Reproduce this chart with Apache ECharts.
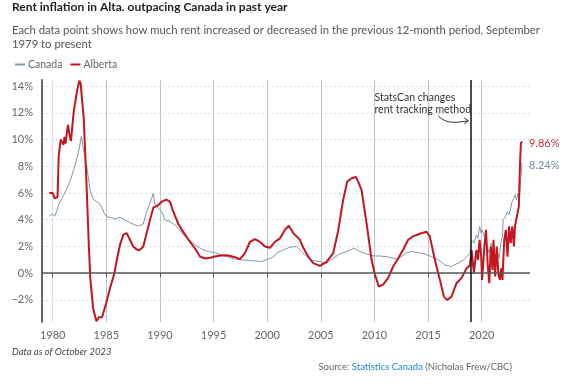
<!DOCTYPE html>
<html><head><meta charset="utf-8">
<script src="https://cdn.jsdelivr.net/npm/echarts@6/dist/echarts.min.js"></script>
<style>html,body{margin:0;padding:0;background:#fff}#c{width:576px;height:391px}</style>
</head><body><div id="c"></div>
<script>
const yearTicks = [1980, 1985, 1990, 1995, 2000, 2005, 2010, 2015, 2020];
const percentTicks = [-2, 0, 2, 4, 6, 8, 10, 12, 14];
const methodChangeYear = 2019.0;

const canadaData = [
  [1979.67, 4.26], [1979.93, 4.43], [1980.19, 4.26], [1980.4, 4.7], [1980.56, 5.13], [1980.8, 5.5],
  [1981.02, 5.87], [1981.25, 6.2], [1981.49, 6.62], [1981.7, 7.1], [1981.96, 7.74], [1982.26, 8.6],
  [1982.48, 9.36], [1982.67, 10.24], [1982.89, 9.12], [1983.2, 7.87], [1983.5, 6.12], [1983.82, 5.5],
  [1984.29, 5.25], [1984.6, 4.88], [1984.85, 4.38], [1985.22, 4.19], [1985.5, 4.15], [1985.8, 4.04],
  [1986.27, 4.19], [1986.74, 3.98], [1987.2, 3.78], [1987.67, 3.61], [1987.98, 3.53], [1988.44, 3.68],
  [1988.76, 4.6], [1989.07, 5.23], [1989.38, 5.98], [1989.53, 5.1], [1989.84, 4.86], [1990.16, 4.6],
  [1990.47, 3.98], [1990.93, 3.86], [1991.4, 3.61], [1991.86, 3.24], [1992.02, 3.0], [1992.64, 2.54],
  [1993.26, 2.12], [1993.88, 1.79], [1994.5, 1.62], [1995.1, 1.54], [1995.75, 1.37], [1996.37, 1.2],
  [1997.0, 1.05], [1997.6, 1.0], [1998.55, 0.94], [1999.48, 0.87], [2000.1, 1.05], [2000.56, 1.2],
  [2000.87, 1.5], [2001.49, 1.74], [2002.11, 1.94], [2002.74, 2.0], [2003.2, 1.62], [2003.67, 1.24],
  [2004.29, 0.94], [2004.91, 0.87], [2005.53, 0.75], [2006.15, 1.12], [2006.77, 1.44], [2007.4, 1.62],
  [2008.08, 1.87], [2008.64, 1.62], [2009.26, 1.44], [2009.88, 1.29], [2010.5, 1.29], [2011.43, 1.2],
  [2012.06, 1.05], [2012.52, 1.24], [2012.99, 1.54], [2013.46, 1.62], [2014.08, 1.54], [2014.7, 1.44],
  [2015.32, 1.24], [2015.94, 1.0], [2016.56, 0.62], [2017.18, 0.5], [2017.8, 0.75], [2018.42, 1.05],
  [2018.9, 1.5], [2019.05, 2.5], [2019.27, 2.24], [2019.5, 2.86], [2019.65, 2.6], [2019.8, 3.5],
  [2019.95, 3.0], [2020.05, 3.24], [2020.25, 2.74], [2020.43, 2.24], [2020.7, 1.5], [2020.88, 2.24],
  [2021.07, 1.74], [2021.25, 1.24], [2021.43, 1.62], [2021.62, 1.12], [2021.8, 2.36], [2021.93, 2.74],
  [2022.0, 4.0], [2022.2, 4.23], [2022.38, 4.6], [2022.55, 4.36], [2022.7, 4.86], [2022.83, 5.35],
  [2022.97, 5.6], [2023.1, 5.85], [2023.24, 5.48], [2023.38, 5.98], [2023.52, 5.73], [2023.75, 8.24]
];

const albertaData = [
  [1979.67, 6.0], [1979.83, 5.9], [1980.0, 6.0], [1980.17, 5.6], [1980.33, 5.7], [1980.45, 5.7],
  [1980.56, 8.8], [1980.75, 10.0], [1980.87, 10.1], [1981.0, 9.6], [1981.1, 10.2], [1981.2, 9.7],
  [1981.33, 10.6], [1981.43, 11.1], [1981.55, 10.4], [1981.7, 9.9], [1981.96, 12.1], [1982.26, 13.6],
  [1982.48, 14.4], [1982.6, 14.2], [1982.89, 11.6], [1983.13, 7.1], [1983.35, 2.4], [1983.5, -0.35],
  [1983.76, -2.6], [1984.07, -3.6], [1984.3, -3.3], [1984.6, -3.3], [1985.0, -2.2], [1985.35, -1.1],
  [1985.75, 0.0], [1986.0, 1.1], [1986.3, 2.2], [1986.6, 2.9], [1986.9, 3.0], [1987.05, 2.9],
  [1987.2, 2.5], [1987.5, 2.0], [1987.8, 1.8], [1988.0, 1.7], [1988.2, 1.8], [1988.44, 2.0],
  [1988.76, 3.0], [1989.07, 4.0], [1989.38, 4.9], [1989.84, 5.1], [1990.16, 5.35], [1990.6, 5.5],
  [1990.93, 5.35], [1991.24, 4.6], [1991.7, 3.7], [1992.0, 3.3], [1992.49, 2.7], [1993.26, 1.85],
  [1993.73, 1.25], [1994.2, 1.1], [1994.7, 1.15], [1995.1, 1.25], [1995.5, 1.3], [1996.06, 1.35],
  [1996.5, 1.3], [1997.0, 1.2], [1997.46, 1.05], [1997.92, 1.5], [1998.39, 2.35], [1998.85, 2.55],
  [1999.32, 2.35], [1999.79, 2.0], [2000.25, 1.9], [2000.72, 2.35], [2001.18, 2.6], [2001.65, 3.25],
  [2002.02, 3.55], [2002.43, 3.0], [2003.05, 2.5], [2003.36, 1.9], [2003.82, 1.25], [2004.29, 0.75],
  [2004.91, 0.55], [2005.53, 0.85], [2006.15, 1.5], [2006.62, 3.2], [2007.08, 5.5], [2007.46, 6.85],
  [2007.87, 7.1], [2008.27, 7.2], [2008.48, 6.85], [2008.8, 6.2], [2009.26, 3.75], [2009.73, 1.0],
  [2010.04, -0.1], [2010.4, -1.0], [2010.55, -1.1], [2010.81, -0.85], [2011.28, -0.35], [2011.74, 0.5],
  [2012.2, 1.1], [2012.67, 1.75], [2013.14, 2.5], [2013.6, 2.75], [2014.22, 2.95], [2014.85, 3.1],
  [2015.16, 2.75], [2015.63, 1.0], [2016.1, -0.5], [2016.47, -1.75], [2016.78, -2.0], [2017.18, -1.75],
  [2017.65, -0.75], [2018.12, -0.35], [2018.58, 0.35], [2018.9, 0.6], [2019.05, 1.74], [2019.27, 0.0],
  [2019.5, 1.74], [2019.65, 1.0], [2019.8, 2.5], [2019.95, 1.24], [2020.03, -0.5], [2020.25, 2.0],
  [2020.4, 3.24], [2020.55, 0.75], [2020.7, -0.75], [2020.85, 2.0], [2021.0, 0.25], [2021.1, 2.5],
  [2021.25, -0.25], [2021.4, 2.0], [2021.55, 0.0], [2021.68, -0.5], [2021.83, 0.37], [2021.93, -0.5],
  [2022.1, 2.5], [2022.25, 3.24], [2022.4, 1.24], [2022.55, 3.5], [2022.7, 2.24], [2022.85, 3.5],
  [2023.0, 2.0], [2023.1, 3.5], [2023.2, 3.6], [2023.34, 4.5], [2023.46, 5.0], [2023.56, 8.0],
  [2023.65, 9.7], [2023.75, 9.86]
];

const FONT = 'Lato';
const chart = echarts.init(document.getElementById('c'), null, { renderer: 'canvas' });

const option = {
  animation: false,
  backgroundColor: '#fff',
  textStyle: { fontFamily: FONT },
  title: [
    { text: 'Rent inflation in Alta. outpacing Canada in past year', left: 12, top: 1.5, padding: 0,
      textStyle: { fontFamily: FONT, fontSize: 12, fontWeight: 'bold', color: '#1e1e1e' } },
    { text: 'Each data point shows how much rent increased or decreased in the previous 12-month period, September\n1979 to present',
      left: 12, top: 24, padding: 0,
      textStyle: { fontFamily: FONT, fontSize: 11.3, fontWeight: 'normal', color: '#555', lineHeight: 13.5 } },
    { text: 'Data as of October 2023', left: 12, top: 347, padding: 0,
      textStyle: { fontFamily: FONT, fontSize: 9.5, fontStyle: 'italic', fontWeight: 'normal', color: '#444' } },
    { text: 'Source: {link|Statistics Canada} (Nicholas Frew/CBC)', right: 64, top: 362, padding: 0,
      textStyle: { fontFamily: FONT, fontSize: 9.5, fontWeight: 'normal', color: '#666',
        rich: { link: { fontFamily: FONT, fontSize: 9.5, color: '#1a8ad4' } } } }
  ],
  legend: {
    left: 10, top: 54, itemWidth: 10, itemHeight: 2, itemGap: 8, icon: 'rect',
    textStyle: { fontFamily: FONT, fontSize: 10.5, color: '#666', padding: [0, 0, 0, -2] },
    data: ['Canada', 'Alberta']
  },
  grid: { left: 42, right: 46, top: 80, bottom: 69, containLabel: false },
  xAxis: {
    type: 'value', min: 1979, max: 2024.5,
    axisLine: { show: false },
    axisTick: { show: true, customValues: yearTicks, length: 4, lineStyle: { color: '#555', width: 1 } },
    axisLabel: { customValues: yearTicks, formatter: v => String(v), color: '#666', fontSize: 11, margin: 8, fontFamily: FONT },
    splitLine: { show: true, lineStyle: { color: ['#dadfe3', '#b8c5cf', '#b8c5cf', '#b8c5cf', '#b8c5cf', '#b8c5cf', '#b8c5cf', '#b8c5cf', '#b8c5cf'], width: 1 } }
  },
  yAxis: {
    type: 'value', min: -3.65, max: 14.45,
    axisLine: { show: true, lineStyle: { color: '#666', width: 2 } },
    axisTick: { show: false, customValues: percentTicks },
    axisLabel: { customValues: percentTicks, formatter: v => (v < 0 ? '\u2212' + Math.abs(v) : v) + '%', color: '#666', fontSize: 11, margin: 9, fontFamily: FONT },
    splitLine: { show: true, lineStyle: { color: '#c3ced6', type: [1.5, 3], width: 1 } }
  },
  series: [
    { name: 'Canada', type: 'line', data: canadaData, showSymbol: false, symbol: 'none',
      lineStyle: { color: '#7f99ac', width: 1 }, itemStyle: { color: '#7f99ac' }, z: 3,
      endLabel: { show: true, formatter: '8.24%', color: '#6f8ca2', fontSize: 11, fontFamily: FONT, distance: 7, offset: [0, 2] } },
    { name: 'Alberta', type: 'line', data: albertaData, showSymbol: false, symbol: 'none',
      lineStyle: { color: '#c3161f', width: 2 }, itemStyle: { color: '#c3161f' }, z: 4,
      endLabel: { show: true, formatter: '9.86%', color: '#c9343c', fontSize: 11, fontFamily: FONT, distance: 7, offset: [0, 2] },
      markLine: { silent: true, symbol: 'none', animation: false, label: { show: false },
        data: [
          { yAxis: 0, lineStyle: { color: '#595959', width: 1.5, type: 'solid' } },
          { xAxis: methodChangeYear, lineStyle: { color: '#111', width: 1.5, type: 'solid' } }
        ] } }
  ]
};
chart.setOption(option);

// annotation placed relative to the data coordinates
const p1 = chart.convertToPixel({ gridIndex: 0 }, [2010.0, 13.55]);
const a0 = chart.convertToPixel({ gridIndex: 0 }, [2015.95, 11.75]);
const a1 = chart.convertToPixel({ gridIndex: 0 }, [2018.75, 11.4]);
chart.setOption({
  graphic: [
    { type: 'text', left: p1[0], top: p1[1], silent: true,
      style: { text: 'StatsCan changes\nrent tracking method', fill: '#333', fontSize: 10.5, fontFamily: FONT, lineHeight: 11.5 } },
    { type: 'bezierCurve', silent: true,
      shape: { x1: a0[0], y1: a0[1], cpx1: a0[0] + 8, cpy1: a0[1] + 8, cpx2: a1[0] - 12, cpy2: a1[1] + 2, x2: a1[0], y2: a1[1] },
      style: { stroke: '#333', lineWidth: 1, fill: null } },
    { type: 'polyline', silent: true,
      shape: { points: [[a1[0] - 4, a1[1] - 3], [a1[0], a1[1]], [a1[0] - 4, a1[1] + 3]] },
      style: { stroke: '#333', lineWidth: 1, fill: null } }
  ]
});
</script></body></html>
